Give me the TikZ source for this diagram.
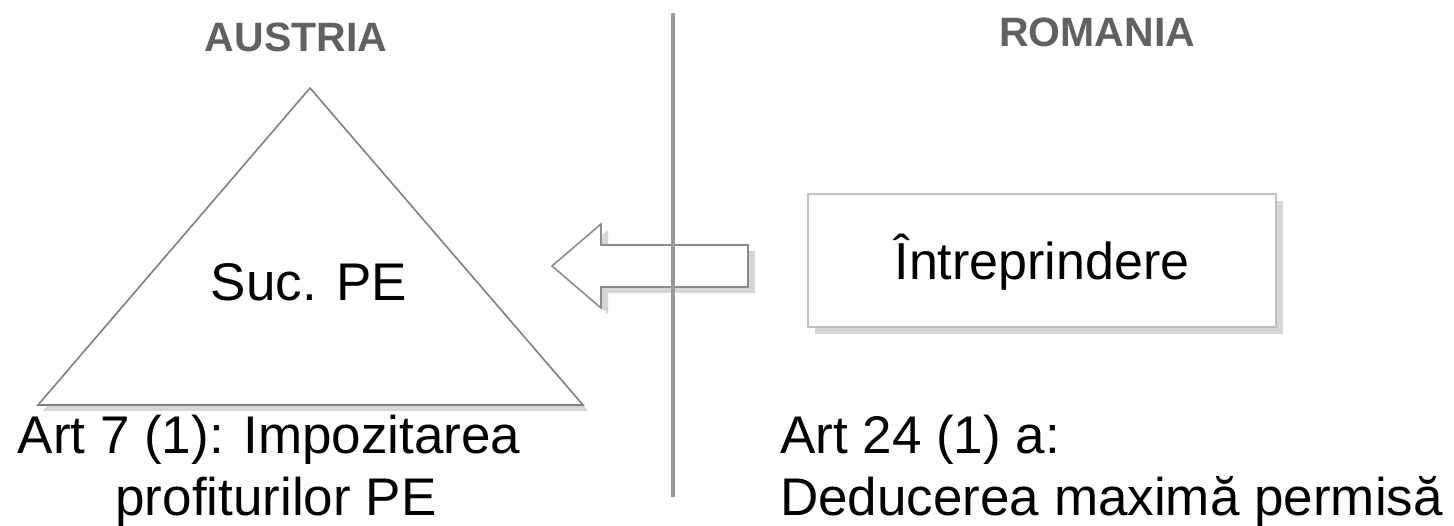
\documentclass[tikz,border=0pt]{standalone}
\usepackage{fontspec}
\setmainfont{Liberation Sans}
\tikzset{
  outline/.style={draw=black!50, line width=1.6pt, fill=white},
  shadowfill/.style={fill=black!16, draw=none},
  header/.style={font=\fontsize{41}{46}\selectfont\bfseries, text=black!62, inner sep=0pt},
  bigtext/.style={font=\fontsize{53}{62}\selectfont, text=black, inner sep=0pt},
  divider/.style={draw=black!40, line width=4pt}
}
\begin{document}
\begin{tikzpicture}[x=1pt,y=-1pt]
\useasboundingbox (0,0) rectangle (1454,526);
% triangle
\fill[shadowfill] (43,411) -- (315,94) -- (588,411) -- cycle;
\draw[outline, draw=black!50] (38,405) -- (310,88) -- (583,405) -- cycle;
\node[bigtext, anchor=base] (suc) at (309,301) {Suc. PE};
% box
\fill[shadowfill] (815,201) rectangle (1283,334);
\node[draw=black!25, line width=1.6pt, fill=white, minimum width=468pt, minimum height=133pt, inner sep=0pt] (intr) at (1042,260.5) {};
\node[bigtext, font=\fontsize{52}{56}\selectfont, anchor=base] (intrtext) at (1042,280) {Întreprindere};
% arrow
\fill[shadowfill] (559,272) -- (608,230) -- (608,251) -- (755,251) -- (755,293) -- (608,293) -- (608,314) -- cycle;
\draw[outline, draw=black!45] (552,266) -- (601,224) -- (601,245) -- (748,245) -- (748,287) -- (601,287) -- (601,308) -- cycle;
% divider
\coordinate (dtop) at (673,13);
\coordinate (dbot) at (673,497);
\draw[divider] (dtop) -- (dbot);
% headers
\node[header, anchor=base] (austria) at (296,52) {AUSTRIA};
\node[header, anchor=base west] (romania) at (999,47) {ROMANIA};
% bottom texts
\node[bigtext, align=center, anchor=base] (art7) at (276,515) {Art 7 (1): Impozitarea\hspace*{14pt}\\profiturilor PE};
\node[bigtext, align=left, anchor=base west] (art24) at (780,515) {Art 24 (1) a:\\Deducerea maximă permisă};
\end{tikzpicture}
\end{document}
